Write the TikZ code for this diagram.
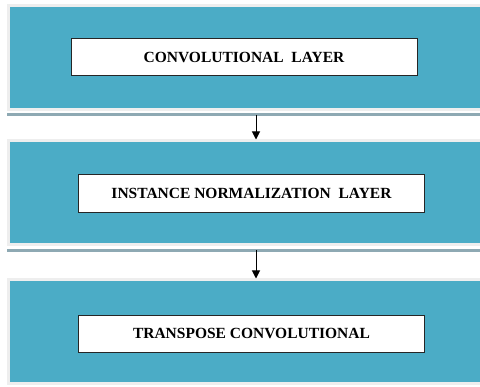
\documentclass[tikz,border=0pt]{standalone}
\usepackage{fontspec}
\setmainfont{Liberation Serif}
\usetikzlibrary{arrows.meta}
\begin{document}
\begin{tikzpicture}[x=1pt,y=-1pt]
 \definecolor{panelfill}{HTML}{4BACC6}
 \definecolor{panelrim}{HTML}{EEEEEE}
 \definecolor{panelshade}{HTML}{8EA9B3}
 \tikzset{
  panel/.style={rectangle,fill=panelfill,draw=panelrim,line width=3pt,
   minimum width=476.5pt,minimum height=104pt,inner sep=0pt},
  layerbox/.style={rectangle,fill=white,draw=black!85,line width=0.8pt,
   minimum width=346pt,minimum height=37pt,inner sep=0pt,
   font=\fontsize{15.5}{17}\selectfont\bfseries},
  flow/.style={line width=1pt,-{Triangle[length=8pt,width=8pt]}}
 }
 \useasboundingbox (0,0) rectangle (480,387);
 \fill [white] (0,0) rectangle (480,387);
 % the three stacked panels
 \node [panel] (convpanel) at (246.75,57.5) {};
 \node [panel] (normpanel) at (246.75,193) {};
 \node [panel] (transpanel) at (246.75,332) {};
 \fill [panelshade] (7,113.5) rectangle (480,116.5);
 \fill [panelshade] (7,249.5) rectangle (480,252.5);
 % layer labels
 \node [layerbox] (conv) at (244,57) {CONVOLUTIONAL\ \ LAYER};
 \node [layerbox,minimum height=38pt] (norm) at (251.5,193) {INSTANCE\ NORMALIZATION\ \ LAYER};
 \node [layerbox] (trans) at (251.5,333.5) {TRANSPOSE\ CONVOLUTIONAL};
 % flow between panels
 \draw [flow] ([xshift=9.25pt,yshift=-4pt]convpanel.south) -- ([xshift=9.25pt]normpanel.north);
 \draw [flow] ([xshift=9.25pt,yshift=-4pt]normpanel.south) -- ([xshift=9.25pt]transpanel.north);
\end{tikzpicture}
\end{document}
